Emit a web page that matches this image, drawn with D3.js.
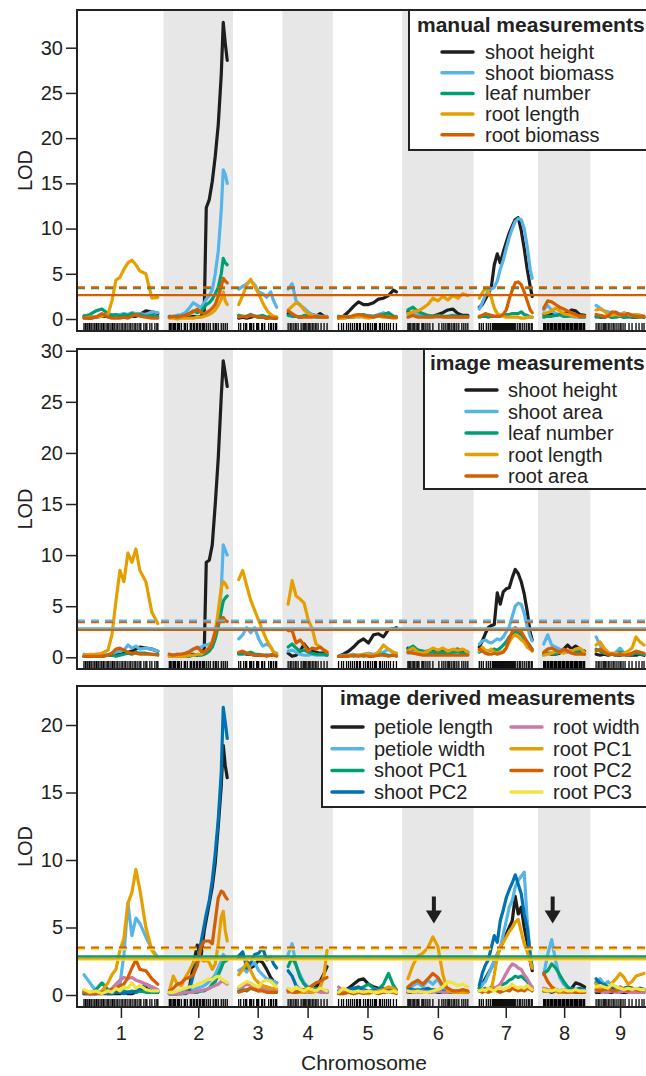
<!DOCTYPE html>
<html>
<head>
<meta charset="utf-8">
<script src="https://d3js.org/d3.v7.min.js"></script>
<style>
body { margin: 0; background: #fff; }
svg { display: block; font-family: "Liberation Sans", Arial, Helvetica, sans-serif; }
</style>
</head>
<body>
<div id="graph"></div>
<script>

// chromosomes and map lengths (cM)
var chrNames = ["1", "2", "3", "4", "5", "6", "7", "8", "9"];
var chrLength = [74, 58, 38, 39, 58, 60, 53, 41, 48];
var chrGap = 11.5;

// positions (cM from chromosome start) where the LOD was evaluated
var lodPositions = [
	[0, 6, 12, 18, 24, 28, 32, 36, 40, 44, 48, 52, 56, 62, 68, 74],
	[0, 4, 8, 12, 16, 20, 24, 28, 32, 35, 37, 40, 43, 46, 49, 52, 54, 56, 58],
	[0, 4, 8, 12, 16, 20, 24, 28, 32, 35, 38],
	[0, 4, 8, 12, 16, 20, 24, 28, 32, 36, 39],
	[0, 5, 10, 15, 20, 25, 30, 35, 40, 45, 50, 55, 58],
	[0, 5, 10, 15, 20, 25, 30, 35, 40, 45, 50, 55, 60],
	[0, 3, 6, 9, 12, 15, 18, 21, 24, 27, 30, 33, 36, 39, 42, 45, 48, 51, 53],
	[0, 4, 8, 12, 16, 20, 24, 28, 32, 36, 41],
	[0, 4, 8, 12, 16, 20, 24, 28, 32, 36, 40, 44, 48]
];

// genetic markers (rug)
var markerPositions = [
	[0, 1.5, 3, 4, 5.5, 7, 8, 10, 11, 12.5, 14, 15, 17, 18, 19.5, 21, 23, 24, 25, 27, 28.5, 30, 31, 33, 34, 36, 38, 39, 41, 42, 44, 46, 47, 49, 51, 52, 54, 56, 57, 60, 62, 63, 66, 68, 71, 73, 74],
	[0, 1, 2.5, 4, 5, 6, 8, 9, 10, 12, 15, 16, 18, 21, 22, 24, 25, 27, 28, 30, 31, 33, 34, 35, 37, 39, 41, 44, 46, 47, 49, 52, 54, 56, 58],
	[0, 2, 5, 7, 8, 11, 12, 13, 15, 18, 19, 20, 23, 24, 26, 30, 32, 33, 35, 37, 38],
	[0, 2, 3, 5, 7, 8, 10, 13, 15, 16, 17, 18, 20, 21, 22, 24, 25, 27, 28, 30, 33, 36, 39],
	[0, 3, 5, 8, 10, 12, 14, 16, 18, 19, 21, 22, 25, 27, 29, 30, 32, 34, 36, 37, 38, 41, 42, 44, 46, 48, 50, 52, 55, 58],
	[0, 1, 2, 3, 5, 6, 7, 9, 10, 11, 14, 15, 16, 18, 20, 22, 25, 31, 34, 36, 38, 40, 41, 42, 44, 46, 47, 49, 51, 54, 56, 58, 60],
	[0, 2, 4, 7, 9, 11, 13, 14, 15, 16, 17, 18, 19, 20, 21, 22, 23, 24, 25, 26, 27, 28, 29, 30, 31, 32, 33, 34, 35, 36, 38, 40, 41, 43, 45, 47, 49, 50, 52, 53],
	[0, 1, 2, 3.5, 4, 5, 6.5, 7, 8, 9, 10.5, 11, 12, 13, 14.5, 15, 16, 17, 18.5, 19, 20, 21, 22.5, 23, 24, 25, 26.5, 27, 28, 29, 30.5, 31, 32, 33, 34, 35.5, 36, 37, 38, 39.5, 40, 41],
	[0, 2, 3, 5, 7, 8, 9, 10, 12, 13, 15, 17, 18, 20, 22, 24, 25, 27, 29, 33, 36, 40, 43, 46, 48]
];

// ---- manual measurements (top panel), one array per chromosome ----
var manualShootHeight = [
	[0.2, 0.1, 0.2, 0.3, 0.3, 0.2, 0.3, 0.2, 0.3, 0.4, 0.3, 0.3, 0.5, 0.9, 0.8, 0.6],
	[0.2, 0.2, 0.1, 0.2, 0.3, 0.2, 0.3, 0.2, 0.3, 1.0, 12.3, 13.2, 15.2, 18.0, 21.5, 27.0, 32.8, 30.5, 28.6],
	[0.1, 0.2, 0.1, 0.2, 0.3, 0.2, 0.2, 0.1, 0.2, 0.1, 0.1],
	[0.6, 0.4, 0.3, 0.2, 0.3, 0.4, 0.5, 0.3, 0.6, 0.3, 0.2],
	[0.1, 0.3, 0.8, 1.4, 1.9, 1.6, 1.6, 1.8, 2.2, 2.3, 2.6, 3.2, 3.0],
	[0.8, 0.6, 0.3, 0.3, 0.3, 0.3, 0.5, 0.7, 1.0, 1.1, 0.6, 0.4, 0.4],
	[1.3, 1.6, 2.2, 2.8, 3.5, 6.0, 7.2, 6.2, 7.4, 8.5, 9.5, 10.3, 11.0, 11.2, 9.8, 7.8, 5.5, 3.6, 2.5],
	[0.5, 0.6, 0.5, 0.4, 0.5, 0.6, 0.7, 1.0, 0.9, 0.5, 0.4],
	[0.3, 0.2, 0.2, 0.3, 0.2, 0.3, 0.4, 0.2, 0.3, 0.2, 0.2, 0.3, 0.2]
];
var manualShootBiomass = [
	[0.4, 0.3, 0.2, 0.4, 0.6, 0.5, 0.4, 0.5, 0.6, 0.5, 0.7, 0.6, 0.6, 0.5, 0.8, 0.7],
	[0.3, 0.3, 0.4, 0.5, 0.7, 1.2, 1.8, 1.5, 1.3, 1.8, 2.2, 2.6, 3.2, 5.0, 7.5, 12.0, 16.5, 16.0, 15.0],
	[3.3, 3.6, 3.9, 4.2, 3.8, 3.0, 2.8, 2.4, 3.0, 2.0, 1.3],
	[3.3, 3.9, 2.0, 1.5, 1.2, 0.8, 0.5, 0.4, 0.3, 0.3, 0.3],
	[0.2, 0.1, 0.2, 0.3, 0.2, 0.3, 0.4, 0.3, 0.5, 0.7, 0.4, 0.3, 0.3],
	[0.5, 0.6, 0.4, 0.3, 0.2, 0.3, 0.2, 0.3, 0.2, 0.3, 0.2, 0.2, 0.2],
	[1.1, 1.8, 2.6, 3.1, 3.3, 3.5, 4.2, 5.5, 6.5, 7.8, 9.0, 10.0, 10.8, 11.1, 11.0, 10.0, 8.0, 5.5, 4.5],
	[1.0, 1.5, 1.0, 0.6, 0.5, 0.3, 0.3, 0.3, 0.2, 0.3, 0.3],
	[1.5, 1.2, 0.9, 0.8, 0.6, 0.8, 0.5, 0.7, 0.5, 0.4, 0.5, 0.4, 0.3]
];
var manualLeafNumber = [
	[0.3, 0.5, 0.9, 1.1, 0.6, 0.4, 0.5, 0.3, 0.5, 0.4, 0.6, 0.4, 0.5, 0.3, 0.4, 0.3],
	[0.3, 0.2, 0.3, 0.3, 0.4, 0.6, 0.9, 0.7, 0.9, 1.3, 1.6, 1.8, 2.2, 2.8, 3.5, 5.0, 6.7, 6.2, 6.0],
	[0.4, 0.3, 0.3, 0.5, 0.3, 0.3, 0.4, 0.2, 0.3, 0.2, 0.2],
	[0.4, 0.3, 0.3, 0.2, 0.4, 0.3, 0.3, 0.2, 0.2, 0.2, 0.2],
	[0.3, 0.2, 0.3, 0.2, 0.4, 0.5, 0.3, 0.3, 0.4, 0.5, 0.7, 0.3, 0.2],
	[1.0, 1.3, 0.8, 0.6, 0.4, 0.3, 0.4, 0.3, 0.3, 0.4, 0.3, 0.3, 0.3],
	[0.2, 0.3, 0.3, 0.2, 0.3, 0.3, 0.3, 0.4, 0.4, 0.5, 0.5, 0.6, 0.6, 0.6, 0.8, 0.5, 0.4, 0.2, 0.2],
	[0.2, 0.3, 0.3, 0.4, 0.5, 0.3, 0.3, 0.4, 0.3, 0.2, 0.2],
	[0.2, 0.3, 0.2, 0.3, 0.2, 0.2, 0.3, 0.2, 0.2, 0.3, 0.2, 0.2, 0.2]
];
var manualRootLength = [
	[0.1, 0.2, 0.2, 0.3, 0.5, 2.0, 4.3, 4.6, 5.5, 6.2, 6.5, 6.0, 5.3, 5.0, 2.3, 2.4],
	[0.1, 0.1, 0.0, 0.1, 0.1, 0.1, 0.1, 0.2, 0.2, 0.3, 0.4, 0.5, 0.7, 1.0, 1.5, 2.2, 3.0, 2.0, 1.6],
	[1.6, 2.6, 3.8, 4.4, 3.6, 2.8, 1.8, 1.0, 0.5, 0.3, 0.2],
	[1.0, 1.4, 1.8, 1.6, 1.0, 0.6, 0.4, 0.3, 0.2, 0.2, 0.2],
	[0.1, 0.1, 0.2, 0.2, 0.3, 0.2, 0.1, 0.2, 0.3, 0.2, 0.2, 0.1, 0.1],
	[0.6, 0.8, 0.9, 1.2, 1.6, 2.3, 2.0, 2.5, 2.1, 2.6, 2.3, 2.8, 2.6],
	[2.3, 2.9, 3.4, 3.0, 2.4, 1.2, 0.6, 0.4, 0.3, 0.2, 0.2, 0.2, 0.2, 0.2, 0.1, 0.1, 0.2, 0.2, 0.2],
	[0.6, 0.7, 0.9, 1.2, 0.9, 0.6, 0.5, 0.4, 0.3, 0.3, 0.3],
	[1.0, 1.1, 0.9, 0.5, 0.4, 0.5, 0.4, 0.6, 0.5, 0.4, 0.5, 0.4, 0.3]
];
var manualRootBiomass = [
	[0.1, 0.1, 0.2, 0.6, 0.2, 0.1, 0.1, 0.1, 0.2, 0.1, 0.3, 0.5, 0.3, 0.2, 0.1, 0.1],
	[0.2, 0.3, 0.2, 0.3, 0.4, 0.6, 0.8, 1.1, 0.7, 0.6, 0.7, 0.9, 1.2, 1.6, 2.5, 3.6, 4.5, 4.2, 4.0],
	[0.2, 0.3, 0.2, 0.4, 0.3, 0.2, 0.2, 0.1, 0.1, 0.1, 0.1],
	[0.9, 0.6, 0.3, 0.2, 0.2, 0.2, 0.2, 0.3, 0.2, 0.2, 0.2],
	[0.2, 0.3, 0.2, 0.4, 0.5, 0.4, 0.3, 0.2, 0.4, 0.3, 0.2, 0.2, 0.2],
	[0.2, 0.4, 0.2, 0.2, 0.2, 0.2, 0.3, 0.2, 0.2, 0.2, 0.2, 0.2, 0.2],
	[0.3, 0.4, 0.6, 0.5, 0.4, 0.3, 0.3, 0.3, 0.5, 1.0, 2.2, 3.2, 4.0, 4.1, 3.8, 3.0, 2.0, 1.0, 0.7],
	[1.2, 2.0, 1.9, 1.6, 1.3, 1.1, 0.9, 0.7, 0.5, 0.3, 0.3],
	[0.5, 0.4, 0.3, 0.3, 0.8, 0.7, 0.5, 0.4, 0.6, 0.4, 0.3, 0.3, 0.3]
];

// ---- image measurements (middle panel) ----
var imageShootHeight = [
	[0.1, 0.1, 0.2, 0.1, 0.2, 0.2, 0.3, 0.3, 0.4, 0.5, 0.6, 0.8, 1.0, 0.9, 0.8, 0.6],
	[0.2, 0.2, 0.1, 0.2, 0.3, 0.2, 0.3, 0.2, 0.3, 0.8, 9.3, 9.5, 11.0, 15.0, 19.5, 25.5, 29.0, 27.8, 26.5],
	[0.4, 0.5, 0.3, 0.3, 0.2, 0.2, 0.2, 0.2, 0.2, 0.3, 0.2],
	[0.4, 0.1, 0.2, 0.6, 1.3, 0.8, 0.6, 0.5, 0.4, 0.4, 0.3],
	[0.1, 0.3, 0.6, 1.0, 1.5, 1.8, 1.4, 2.2, 2.3, 2.0, 2.7, 2.8, 2.9],
	[0.9, 0.6, 0.7, 0.5, 0.6, 0.7, 0.6, 0.8, 0.6, 0.7, 0.8, 0.6, 0.5],
	[1.0, 1.6, 2.3, 2.9, 3.1, 3.2, 6.3, 5.2, 6.4, 6.7, 6.8, 7.8, 8.6, 8.2, 7.4, 6.2, 4.5, 2.4, 1.7],
	[0.3, 0.4, 0.3, 0.3, 0.4, 0.8, 1.2, 0.8, 1.1, 0.8, 0.6],
	[0.3, 0.2, 0.3, 0.2, 0.3, 0.2, 0.2, 0.3, 0.2, 0.2, 0.2, 0.3, 0.2]
];
var imageShootArea = [
	[0.3, 0.2, 0.3, 0.2, 0.3, 0.3, 0.5, 0.6, 0.7, 1.2, 0.9, 1.1, 0.8, 0.9, 0.8, 0.6],
	[0.3, 0.2, 0.3, 0.3, 0.4, 0.6, 0.8, 0.9, 1.0, 1.2, 1.2, 1.3, 1.5, 2.5, 4.0, 6.5, 11.0, 10.5, 10.0],
	[1.8, 2.2, 2.9, 2.4, 2.9, 1.8, 1.1, 1.3, 1.0, 0.5, 0.4],
	[0.6, 0.7, 0.5, 0.3, 0.2, 0.2, 0.3, 0.2, 0.2, 0.2, 0.2],
	[0.1, 0.2, 0.2, 0.3, 0.2, 0.3, 0.4, 0.3, 0.4, 0.5, 0.8, 0.4, 0.4],
	[0.4, 0.5, 0.4, 0.3, 0.4, 0.3, 0.3, 0.4, 0.3, 0.3, 0.3, 0.3, 0.3],
	[1.3, 1.6, 1.7, 1.5, 1.4, 1.6, 1.8, 1.7, 2.0, 2.5, 3.0, 4.0, 5.0, 5.3, 5.2, 4.3, 3.0, 2.0, 1.6],
	[1.3, 2.2, 1.2, 1.0, 0.8, 0.5, 0.5, 0.6, 0.4, 0.4, 0.3],
	[2.0, 1.2, 0.6, 0.4, 0.3, 0.5, 0.9, 0.4, 0.3, 0.3, 0.5, 0.5, 0.3]
];
var imageLeafNumber = [
	[0.1, 0.1, 0.2, 0.1, 0.2, 0.2, 0.1, 0.2, 0.3, 0.4, 0.3, 0.5, 0.4, 0.4, 0.3, 0.3],
	[0.1, 0.1, 0.1, 0.1, 0.1, 0.1, 0.2, 0.2, 0.2, 0.3, 0.4, 0.6, 1.0, 1.8, 3.0, 4.5, 5.5, 5.8, 6.0],
	[0.3, 0.3, 0.4, 0.5, 0.3, 0.3, 0.2, 0.2, 0.2, 0.2, 0.2],
	[1.0, 1.3, 0.9, 0.6, 0.7, 0.5, 0.4, 0.3, 0.3, 0.3, 0.2],
	[0.1, 0.1, 0.2, 0.1, 0.2, 0.1, 0.2, 0.2, 0.2, 0.3, 0.2, 0.2, 0.2],
	[0.8, 1.1, 0.7, 0.6, 0.5, 0.5, 0.4, 0.5, 0.4, 0.5, 0.6, 0.4, 0.3],
	[0.5, 0.7, 0.6, 0.6, 0.7, 0.8, 0.7, 0.9, 1.2, 1.5, 2.0, 2.3, 2.5, 2.4, 2.2, 1.8, 1.5, 1.1, 0.8],
	[0.3, 0.4, 0.4, 0.3, 0.5, 0.5, 0.6, 0.5, 0.6, 0.5, 0.4],
	[0.8, 0.6, 0.4, 0.3, 0.4, 0.3, 0.5, 0.4, 0.3, 0.3, 0.4, 0.3, 0.3]
];
var imageRootLength = [
	[0.2, 0.3, 0.3, 0.4, 0.7, 2.2, 5.5, 8.5, 7.4, 10.2, 9.3, 10.6, 8.5, 7.4, 4.4, 3.3],
	[0.1, 0.1, 0.1, 0.1, 0.1, 0.2, 0.2, 0.3, 0.3, 0.5, 0.7, 1.0, 1.5, 2.5, 4.5, 6.8, 7.4, 7.2, 6.8],
	[7.6, 8.5, 7.0, 5.6, 4.6, 3.6, 2.6, 1.7, 1.0, 0.5, 0.3],
	[5.2, 7.5, 6.0, 5.7, 5.3, 3.7, 2.8, 1.3, 1.0, 0.7, 0.5],
	[0.1, 0.1, 0.2, 0.2, 0.2, 0.3, 0.3, 0.2, 0.5, 1.2, 0.8, 0.5, 0.4],
	[0.6, 0.9, 0.5, 0.4, 0.6, 0.9, 0.7, 0.9, 0.6, 0.8, 0.7, 0.8, 0.5],
	[0.6, 1.0, 0.7, 0.6, 0.8, 0.5, 0.4, 0.5, 0.6, 0.9, 1.5, 2.0, 2.2, 2.0, 1.7, 1.5, 1.0, 0.8, 0.6],
	[0.2, 0.3, 0.4, 0.6, 0.5, 0.4, 0.7, 0.6, 0.8, 0.9, 0.5],
	[1.2, 1.5, 0.9, 0.5, 0.3, 0.4, 0.3, 0.4, 0.6, 0.9, 2.0, 1.5, 1.2]
];
var imageRootArea = [
	[0.1, 0.1, 0.1, 0.1, 0.2, 0.4, 0.8, 0.9, 0.7, 0.5, 0.4, 0.4, 0.3, 0.3, 0.3, 0.2],
	[0.3, 0.2, 0.3, 0.3, 0.4, 0.5, 0.8, 1.0, 0.6, 0.5, 0.6, 0.9, 1.4, 2.5, 3.5, 3.8, 3.9, 3.6, 3.5],
	[0.5, 0.6, 0.4, 0.3, 0.2, 0.2, 0.2, 0.1, 0.2, 0.2, 0.1],
	[2.6, 2.6, 1.4, 1.7, 1.2, 0.6, 0.9, 0.8, 1.0, 0.7, 0.5],
	[0.1, 0.1, 0.1, 0.2, 0.1, 0.2, 0.1, 0.1, 0.2, 0.2, 0.1, 0.2, 0.1],
	[0.5, 0.4, 0.3, 0.2, 0.2, 0.2, 0.2, 0.2, 0.2, 0.2, 0.2, 0.2, 0.2],
	[0.8, 0.6, 0.4, 0.3, 0.3, 0.4, 0.3, 0.4, 0.5, 0.9, 1.8, 2.5, 2.9, 2.6, 2.5, 2.0, 1.5, 1.0, 0.7],
	[0.5, 0.8, 0.9, 0.7, 0.5, 0.8, 0.6, 0.4, 0.3, 0.3, 0.3],
	[0.6, 0.8, 0.5, 0.3, 0.3, 0.2, 0.3, 0.2, 0.2, 0.4, 0.6, 0.5, 0.4]
];

// ---- image derived measurements (bottom panel) ----
var derivedPetioleLength = [
	[0.1, 0.1, 0.1, 0.1, 0.1, 0.1, 0.1, 0.1, 0.2, 0.1, 0.1, 0.2, 0.3, 0.5, 0.3, 0.2],
	[0.1, 0.1, 0.1, 0.2, 0.3, 0.5, 2.2, 3.7, 3.0, 4.8, 5.6, 6.8, 8.0, 9.8, 12.5, 15.5, 18.5, 17.0, 16.1],
	[2.8, 2.9, 2.5, 2.0, 2.2, 2.6, 2.4, 1.9, 1.3, 1.0, 0.9],
	[0.4, 0.3, 0.2, 0.3, 0.2, 0.3, 0.4, 0.6, 1.0, 1.6, 2.1],
	[0.2, 0.3, 0.5, 0.8, 1.1, 1.2, 0.8, 0.6, 0.5, 0.4, 0.5, 0.3, 0.3],
	[0.2, 0.2, 0.3, 0.2, 0.2, 0.3, 0.2, 0.2, 0.2, 0.3, 0.2, 0.2, 0.2],
	[0.5, 0.8, 1.2, 1.6, 2.0, 2.5, 3.0, 3.5, 4.0, 4.5, 5.0, 5.5, 7.3, 6.0, 6.5, 5.0, 3.9, 2.5, 1.8],
	[0.3, 0.3, 0.2, 0.3, 0.2, 0.3, 0.4, 0.5, 0.9, 0.8, 0.6],
	[0.2, 0.2, 0.3, 0.2, 0.2, 0.3, 0.2, 0.2, 0.2, 0.2, 0.2, 0.2, 0.2]
];
var derivedPetioleWidth = [
	[1.5, 0.9, 0.3, 0.2, 0.3, 0.4, 0.5, 0.8, 3.0, 6.8, 4.4, 5.7, 5.3, 4.3, 3.4, 2.8],
	[0.1, 0.1, 0.2, 0.2, 0.3, 0.3, 0.4, 0.5, 0.6, 0.7, 0.8, 1.0, 1.2, 1.5, 2.0, 2.5, 3.0, 2.8, 2.6],
	[1.8, 2.0, 1.7, 2.2, 2.4, 1.8, 1.5, 1.2, 1.1, 1.0, 0.9],
	[3.0, 3.8, 2.2, 1.5, 0.9, 0.6, 0.5, 0.4, 0.4, 0.3, 0.3],
	[0.2, 0.2, 0.3, 0.4, 0.5, 0.3, 0.2, 0.3, 0.2, 0.3, 0.2, 0.2, 0.2],
	[0.4, 0.7, 0.9, 0.6, 1.1, 0.8, 1.2, 0.5, 0.3, 0.3, 0.2, 0.3, 0.3],
	[0.5, 0.8, 1.0, 1.5, 2.0, 2.5, 3.0, 3.5, 4.5, 5.5, 6.5, 7.0, 8.0, 8.5, 8.8, 9.1, 5.5, 3.0, 2.0],
	[1.5, 3.0, 4.1, 2.5, 1.3, 0.8, 0.5, 0.4, 0.3, 0.3, 0.3],
	[1.0, 1.2, 0.8, 1.0, 0.7, 0.5, 0.4, 0.5, 0.4, 0.5, 0.4, 0.3, 0.3]
];
var derivedShootPC1 = [
	[0.3, 0.1, 0.4, 0.9, 0.4, 0.2, 0.3, 0.2, 0.3, 0.2, 0.3, 0.2, 0.3, 0.2, 0.2, 0.2],
	[0.1, 0.1, 0.1, 0.1, 0.1, 0.2, 0.2, 0.2, 0.3, 0.3, 0.4, 0.5, 0.8, 1.0, 1.5, 2.0, 2.4, 2.5, 2.6],
	[0.3, 0.4, 0.3, 0.5, 0.4, 0.3, 0.4, 0.6, 0.5, 0.4, 0.3],
	[2.1, 2.8, 2.2, 1.3, 0.8, 0.5, 0.4, 0.5, 0.4, 0.3, 0.3],
	[0.2, 0.2, 0.3, 0.5, 0.4, 0.6, 0.8, 0.5, 0.4, 0.8, 1.6, 0.7, 0.4],
	[0.3, 0.3, 0.4, 0.3, 0.3, 0.4, 0.3, 0.2, 0.3, 0.2, 0.3, 0.2, 0.2],
	[0.5, 0.4, 0.5, 0.4, 0.6, 0.5, 0.6, 0.7, 0.8, 0.9, 1.1, 1.2, 1.4, 1.3, 1.4, 1.2, 1.0, 0.7, 0.5],
	[1.6, 1.8, 2.3, 2.0, 1.5, 1.0, 0.6, 0.4, 0.3, 0.3, 0.3],
	[0.9, 0.7, 0.8, 0.6, 0.5, 0.6, 0.4, 0.5, 0.6, 0.5, 0.4, 0.5, 0.4]
];
var derivedShootPC2 = [
	[0.1, 0.1, 0.1, 0.2, 0.1, 0.1, 0.2, 0.2, 0.1, 0.2, 0.2, 0.3, 0.5, 0.8, 0.6, 0.3],
	[0.1, 0.1, 0.1, 0.1, 0.2, 0.3, 1.5, 2.5, 4.0, 5.2, 6.0, 7.0, 8.5, 10.5, 13.0, 16.5, 21.3, 20.2, 19.0],
	[2.9, 3.2, 2.0, 2.4, 3.0, 3.1, 3.5, 2.6, 2.8, 2.3, 2.0],
	[1.8, 1.4, 0.7, 0.4, 0.3, 0.3, 0.4, 0.3, 0.3, 0.3, 0.2],
	[0.3, 0.2, 0.4, 0.5, 0.6, 0.4, 0.3, 0.3, 0.4, 0.5, 0.4, 0.3, 0.3],
	[0.5, 0.4, 0.3, 0.4, 0.5, 0.3, 0.2, 0.3, 0.2, 0.2, 0.2, 0.2, 0.2],
	[0.7, 1.6, 2.2, 2.6, 3.5, 4.4, 3.9, 5.5, 6.3, 7.2, 7.8, 8.3, 8.9, 8.2, 7.5, 6.0, 5.0, 3.0, 2.0],
	[0.4, 0.3, 0.3, 0.4, 0.3, 0.4, 0.3, 0.5, 0.4, 0.5, 0.4],
	[1.2, 0.9, 0.7, 0.6, 0.5, 0.4, 0.5, 0.4, 0.6, 0.5, 0.4, 0.5, 0.4]
];
var derivedRootWidth = [
	[0.2, 0.1, 0.1, 0.2, 0.3, 0.5, 0.8, 1.1, 1.3, 1.2, 1.3, 1.1, 1.0, 0.8, 0.6, 0.4],
	[0.1, 0.1, 0.1, 0.1, 0.2, 0.2, 0.2, 0.3, 0.3, 0.4, 0.4, 0.5, 0.6, 0.7, 0.8, 1.0, 1.0, 0.9, 0.8],
	[0.5, 0.6, 0.8, 0.7, 0.5, 0.4, 0.5, 0.4, 0.3, 0.3, 0.3],
	[0.2, 0.3, 0.2, 0.2, 0.3, 0.2, 0.2, 0.3, 0.2, 0.2, 0.2],
	[0.6, 0.3, 0.2, 0.2, 0.2, 0.3, 0.2, 0.2, 0.3, 0.2, 0.2, 0.2, 0.2],
	[0.2, 0.3, 0.2, 0.3, 0.2, 0.2, 0.3, 0.2, 0.2, 0.3, 0.2, 0.2, 0.2],
	[0.3, 0.4, 0.3, 0.4, 0.5, 0.5, 0.6, 0.8, 1.2, 1.6, 2.0, 2.3, 2.2, 2.0, 1.9, 1.5, 1.2, 0.8, 0.6],
	[0.5, 0.4, 0.3, 0.3, 0.2, 0.2, 0.2, 0.2, 0.2, 0.2, 0.2],
	[0.3, 0.3, 0.2, 0.2, 0.3, 0.2, 0.2, 0.3, 0.2, 0.2, 0.2, 0.2, 0.2]
];
var derivedRootPC1 = [
	[0.3, 0.2, 0.2, 0.3, 0.9, 1.5, 1.9, 3.3, 4.2, 6.8, 7.6, 9.3, 7.8, 5.0, 3.3, 2.7],
	[0.3, 1.4, 0.8, 0.7, 1.3, 1.8, 2.4, 2.8, 2.6, 2.5, 2.6, 2.4, 1.9, 2.3, 3.8, 5.8, 6.2, 4.8, 4.0],
	[1.5, 1.9, 2.4, 1.8, 1.2, 0.9, 0.7, 0.6, 0.5, 0.5, 0.5],
	[0.3, 0.3, 0.2, 0.2, 0.2, 0.3, 0.2, 0.3, 0.5, 1.5, 3.3],
	[0.1, 0.1, 0.2, 0.1, 0.2, 0.2, 0.1, 0.2, 0.3, 0.4, 0.6, 0.5, 0.3],
	[1.2, 2.2, 2.9, 3.1, 3.5, 4.3, 3.6, 1.5, 0.3, 0.2, 0.2, 0.2, 0.2],
	[0.3, 0.3, 0.4, 0.5, 0.4, 1.5, 2.8, 3.6, 3.9, 4.3, 4.7, 5.0, 5.4, 5.6, 4.7, 3.8, 3.2, 2.5, 2.0],
	[0.3, 0.3, 0.4, 0.3, 0.2, 0.2, 0.3, 0.2, 0.3, 0.2, 0.2],
	[0.8, 0.5, 0.4, 0.5, 0.9, 1.2, 1.6, 1.3, 0.8, 1.0, 1.4, 1.5, 1.6]
];
var derivedRootPC2 = [
	[0.2, 0.1, 0.1, 0.2, 0.3, 0.4, 0.5, 0.7, 0.8, 1.3, 2.0, 2.6, 1.9, 1.8, 1.2, 0.8],
	[0.3, 0.5, 0.8, 0.9, 1.2, 1.3, 1.5, 2.2, 3.6, 4.0, 4.0, 4.0, 3.8, 5.5, 7.2, 7.7, 7.6, 7.3, 7.1],
	[0.2, 0.3, 0.4, 0.5, 0.4, 0.3, 0.3, 0.2, 0.2, 0.2, 0.2],
	[0.3, 0.2, 0.2, 0.3, 0.4, 0.5, 0.7, 0.9, 1.0, 1.2, 1.3],
	[0.1, 0.1, 0.2, 0.1, 0.2, 0.1, 0.2, 0.2, 0.1, 0.2, 0.3, 0.2, 0.1],
	[0.6, 0.9, 1.1, 0.8, 1.2, 1.6, 1.3, 0.7, 0.5, 0.3, 0.3, 0.4, 0.3],
	[0.3, 0.2, 0.3, 0.2, 0.3, 0.4, 0.3, 0.2, 0.3, 0.4, 0.3, 0.5, 0.4, 0.3, 0.4, 0.3, 0.5, 0.4, 0.3],
	[1.6, 1.0, 0.6, 0.4, 0.3, 0.3, 0.2, 0.3, 0.2, 0.2, 0.2],
	[0.4, 0.3, 0.4, 0.5, 0.3, 0.3, 0.6, 0.4, 0.3, 0.5, 0.4, 0.3, 0.4]
];
var derivedRootPC3 = [
	[0.4, 0.2, 0.3, 0.1, 0.3, 0.2, 0.5, 0.3, 0.6, 0.5, 0.9, 0.5, 0.7, 0.4, 0.3, 0.3],
	[0.2, 0.2, 0.3, 0.4, 0.5, 0.6, 0.6, 0.8, 0.9, 1.0, 1.1, 1.2, 1.1, 1.3, 1.4, 1.2, 1.1, 1.0, 0.9],
	[0.6, 0.8, 1.0, 0.9, 0.7, 0.6, 1.0, 1.1, 1.0, 0.8, 0.6],
	[0.5, 0.3, 0.6, 0.4, 0.3, 0.5, 0.4, 0.3, 0.5, 0.4, 0.3],
	[0.2, 0.5, 0.3, 0.2, 0.3, 0.2, 0.3, 0.2, 0.2, 0.3, 0.2, 0.3, 0.2],
	[0.3, 0.2, 0.3, 0.2, 0.2, 0.3, 0.4, 0.6, 1.0, 0.9, 0.7, 0.8, 0.6],
	[0.3, 0.4, 0.3, 0.5, 0.4, 0.3, 0.5, 0.6, 0.4, 0.5, 0.6, 0.8, 0.6, 0.5, 0.6, 0.5, 0.7, 0.5, 0.4],
	[0.4, 0.3, 0.3, 0.4, 0.3, 0.4, 0.3, 0.3, 0.4, 0.3, 0.3],
	[0.6, 0.7, 0.6, 0.5, 0.8, 0.6, 0.5, 0.4, 0.5, 0.4, 0.5, 0.4, 0.4]
];

// trait names (legend order)
var manualTraits = ["shoot height", "shoot biomass", "leaf number", "root length", "root biomass"];
var imageTraits = ["shoot height", "shoot area", "leaf number", "root length", "root area"];
var derivedTraits = ["petiole length", "petiole width", "shoot PC1", "shoot PC2", "root width", "root PC1", "root PC2", "root PC3"];

// significance thresholds (LOD)
var manualCutoffs = [
	{ trait: "leaf number", lod: 3.42, dashed: true },
	{ trait: "root biomass", lod: 3.5, dashed: true },
	{ trait: "root biomass", lod: 2.65, dashed: false }
];
var imageCutoffs = [
	{ trait: "root area", lod: 3.45, dashed: true },
	{ trait: "shoot area", lod: 3.6, dashed: true },
	{ trait: "shoot area", lod: 2.84, dashed: false },
	{ trait: "root area", lod: 2.67, dashed: false }
];
var derivedCutoffs = [
	{ trait: "root PC3", lod: 3.4, dashed: true },
	{ trait: "root PC2", lod: 3.52, dashed: true },
	{ trait: "root PC3", lod: 2.62, dashed: false },
	{ trait: "root PC1", lod: 2.72, dashed: false },
	{ trait: "shoot PC1", lod: 2.86, dashed: false }
];

// arrows marking small QTL in the bottom panel
var derivedArrows = [
	{ chr: 6, pos: 26, lod: 5.3 },
	{ chr: 8, pos: 9, lod: 5.3 }
];

var lodTicks30 = [0, 5, 10, 15, 20, 25, 30];
var lodTicks20 = [0, 5, 10, 15, 20];


// colours
var col = {
	black: "#1e1e1e", sky: "#56B4E9", green: "#009E73", orange: "#E69F00",
	red: "#D55E00", blue: "#0072B2", pink: "#CC79A7", yellow: "#F0E442"
};

var width = 646, height = 1076;
var plotLeft = 77, plotRight = 651;

var svg = d3.select("#graph").append("svg")
	.attr("width", width)
	.attr("height", height);

// chromosome offsets along the genome axis
var chrStart = [];
var acc = 0;
chrLength.forEach(function(len) { chrStart.push(acc); acc += len + chrGap; });
var genomeEnd = chrStart[8] + chrLength[8];

var x = d3.scaleLinear()
	.domain([-7, genomeEnd + 7])
	.range([plotLeft, plotRight]);

function chrX(c, pos) { return x(chrStart[c] + pos); }


var panels = [
	{
		top: 10, bottom: 331, lod: [-1.327, 34.17], ticks: lodTicks30,
		traits: manualTraits,
		values: [manualShootHeight, manualShootBiomass, manualLeafNumber, manualRootLength, manualRootBiomass],
		colors: [col.black, col.sky, col.green, col.orange, col.red],
		cutoffs: manualCutoffs,
		legend: { title: "manual measurements", x: 409, y: 10, w: 270, h: 140, titleX: 417, titleY: 32,
			lineX: [442], textX: [485], rowY: 52, step: 20.7, perCol: 5 }
	},
	{
		top: 349, bottom: 669, lod: [-1.145, 30.17], ticks: lodTicks30,
		traits: imageTraits,
		values: [imageShootHeight, imageShootArea, imageLeafNumber, imageRootLength, imageRootArea],
		colors: [col.black, col.sky, col.green, col.orange, col.red],
		cutoffs: imageCutoffs,
		legend: { title: "image measurements", x: 424, y: 349, w: 260, h: 140, titleX: 430, titleY: 370,
			lineX: [466], textX: [508], rowY: 390, step: 21.5, perCol: 5 }
	},
	{
		top: 686, bottom: 1007, lod: [-0.889, 22.89], ticks: lodTicks20,
		traits: derivedTraits,
		values: [derivedPetioleLength, derivedPetioleWidth, derivedShootPC1, derivedShootPC2,
			derivedRootWidth, derivedRootPC1, derivedRootPC2, derivedRootPC3],
		colors: [col.black, col.sky, col.green, col.blue, col.pink, col.orange, col.red, col.yellow],
		cutoffs: derivedCutoffs,
		arrows: derivedArrows,
		legend: { title: "image derived measurements", x: 322, y: 686, w: 340, h: 121, titleX: 340, titleY: 705,
			lineX: [332, 511], textX: [374, 553], rowY: 727, step: 21.7, perCol: 4 }
	}
];


function drawPanel(p, isLast) {

	var y = d3.scaleLinear().domain(p.lod).range([p.bottom, p.top]);
	var g = svg.append("g");

	// alternating grey bands for even chromosomes
	var bands = d3.range(chrNames.length).filter(function(c) { return c % 2 == 1; });
	g.selectAll("rect.band")
		.data(bands)
		.enter().append("rect")
		.attr("class", "band")
		.attr("x", function(c) { return x(chrStart[c] - chrGap / 2); })
		.attr("width", function(c) {
			var right = (c == chrNames.length - 1) ? genomeEnd + 7 : chrStart[c] + chrLength[c] + chrGap / 2;
			return x(right) - x(chrStart[c] - chrGap / 2);
		})
		.attr("y", p.top)
		.attr("height", p.bottom - p.top)
		.attr("fill", "#e7e7e7");

	// LOD curves, one path per trait and chromosome
	var curves = [];
	p.values.forEach(function(traitVals, k) {
		traitVals.forEach(function(vals, c) {
			curves.push({
				color: p.colors[k],
				pts: vals.map(function(v, j) { return [chrX(c, lodPositions[c][j]), y(v)]; })
			});
		});
	});

	var line = d3.line();
	g.selectAll("path.curve")
		.data(curves)
		.enter().append("path")
		.attr("class", "curve")
		.attr("d", function(d) { return line(d.pts); })
		.attr("fill", "none")
		.attr("stroke", function(d) { return d.color; })
		.attr("stroke-width", 3.2)
		.attr("stroke-linejoin", "round")
		.attr("stroke-linecap", "round");

	// thresholds
	g.selectAll("line.cutoff")
		.data(p.cutoffs)
		.enter().append("line")
		.attr("class", "cutoff")
		.attr("x1", plotLeft).attr("x2", plotRight)
		.attr("y1", function(d) { return y(d.lod); })
		.attr("y2", function(d) { return y(d.lod); })
		.attr("stroke", function(d) { return p.colors[p.traits.indexOf(d.trait)]; })
		.attr("stroke-width", 2.2)
		.attr("stroke-dasharray", function(d) { return d.dashed ? "8,6" : null; });

	// marker rug
	var rug = [];
	markerPositions.forEach(function(ms, c) {
		ms.forEach(function(m) { rug.push(chrX(c, m)); });
	});
	g.selectAll("line.rug")
		.data(rug)
		.enter().append("line")
		.attr("class", "rug")
		.attr("x1", function(d) { return d; })
		.attr("x2", function(d) { return d; })
		.attr("y1", p.bottom - 1)
		.attr("y2", p.bottom - 8)
		.attr("stroke", "#000")
		.attr("stroke-width", 1.3);

	// arrows
	if (p.arrows) {
		g.selectAll("path.arrow")
			.data(p.arrows)
			.enter().append("path")
			.attr("class", "arrow")
			.attr("d", function(d) {
				var ax = chrX(d.chr - 1, d.pos), ay = y(d.lod);
				return "M" + ax + "," + ay + "L" + (ax - 8) + "," + (ay - 13) + "L" + (ax - 2) + "," + (ay - 13)
					+ "L" + (ax - 2) + "," + (ay - 27) + "L" + (ax + 2) + "," + (ay - 27)
					+ "L" + (ax + 2) + "," + (ay - 13) + "L" + (ax + 8) + "," + (ay - 13) + "Z";
			})
			.attr("fill", "#1e1e1e");
	}

	// legend
	var L = p.legend;
	var lg = g.append("g").attr("class", "legend");
	lg.append("rect")
		.attr("x", L.x).attr("y", L.y)
		.attr("width", L.w).attr("height", L.h)
		.attr("fill", "#fff")
		.attr("stroke", "#222")
		.attr("stroke-width", 2);
	lg.append("text")
		.attr("x", L.titleX).attr("y", L.titleY)
		.attr("font-size", "21px")
		.attr("font-weight", "bold")
		.attr("fill", "#222")
		.text(L.title);

	var items = lg.selectAll("g.item")
		.data(p.traits)
		.enter().append("g")
		.attr("class", "item")
		.attr("transform", function(d, i) {
			return "translate(0," + (L.rowY + (i % L.perCol) * L.step) + ")";
		});
	items.append("line")
		.attr("x1", function(d, i) { return L.lineX[Math.floor(i / L.perCol)]; })
		.attr("x2", function(d, i) { return L.lineX[Math.floor(i / L.perCol)] + 31; })
		.attr("stroke", function(d, i) { return p.colors[i]; })
		.attr("stroke-width", 3.5)
		.attr("stroke-linecap", "round");
	items.append("text")
		.attr("x", function(d, i) { return L.textX[Math.floor(i / L.perCol)]; })
		.attr("dy", "0.35em")
		.attr("font-size", "20px")
		.attr("fill", "#222")
		.text(function(d) { return d; });

	// frame
	g.append("rect")
		.attr("x", plotLeft).attr("y", p.top)
		.attr("width", plotRight - plotLeft)
		.attr("height", p.bottom - p.top)
		.attr("fill", "none")
		.attr("stroke", "#222")
		.attr("stroke-width", 2);

	// y axis
	var yAxis = g.append("g")
		.attr("transform", "translate(" + plotLeft + ",0)")
		.call(d3.axisLeft(y).tickValues(p.ticks).tickSize(11).tickPadding(3));
	yAxis.select(".domain").remove();
	yAxis.selectAll(".tick line").attr("stroke", "#222").attr("stroke-width", 1.5);
	yAxis.selectAll(".tick text")
		.attr("font-family", null)
		.attr("font-size", "20px")
		.attr("fill", "#222");

	g.append("text")
		.attr("transform", "translate(25," + ((p.top + p.bottom) / 2) + ") rotate(-90)")
		.attr("text-anchor", "middle")
		.attr("dy", "0.35em")
		.attr("font-size", "20px")
		.attr("fill", "#222")
		.text("LOD");

	// x axis only under the bottom panel
	if (isLast) {
		var mids = chrNames.map(function(n, c) { return chrStart[c] + chrLength[c] / 2; });
		var xAxis = g.append("g")
			.attr("transform", "translate(0," + p.bottom + ")")
			.call(d3.axisBottom(x).tickValues(mids)
				.tickFormat(function(d, i) { return chrNames[i]; })
				.tickSize(11).tickPadding(8));
		xAxis.select(".domain").remove();
		xAxis.selectAll(".tick line").attr("stroke", "#222").attr("stroke-width", 1.5);
		xAxis.selectAll(".tick text")
			.attr("font-family", null)
			.attr("font-size", "20px")
			.attr("fill", "#222");

		g.append("text")
			.attr("x", (plotLeft + plotRight) / 2)
			.attr("y", 1070)
			.attr("text-anchor", "middle")
			.attr("font-size", "21px")
			.attr("fill", "#222")
			.text("Chromosome");
	}
}

panels.forEach(function(p, i) { drawPanel(p, i == panels.length - 1); });

</script>
</body>
</html>
